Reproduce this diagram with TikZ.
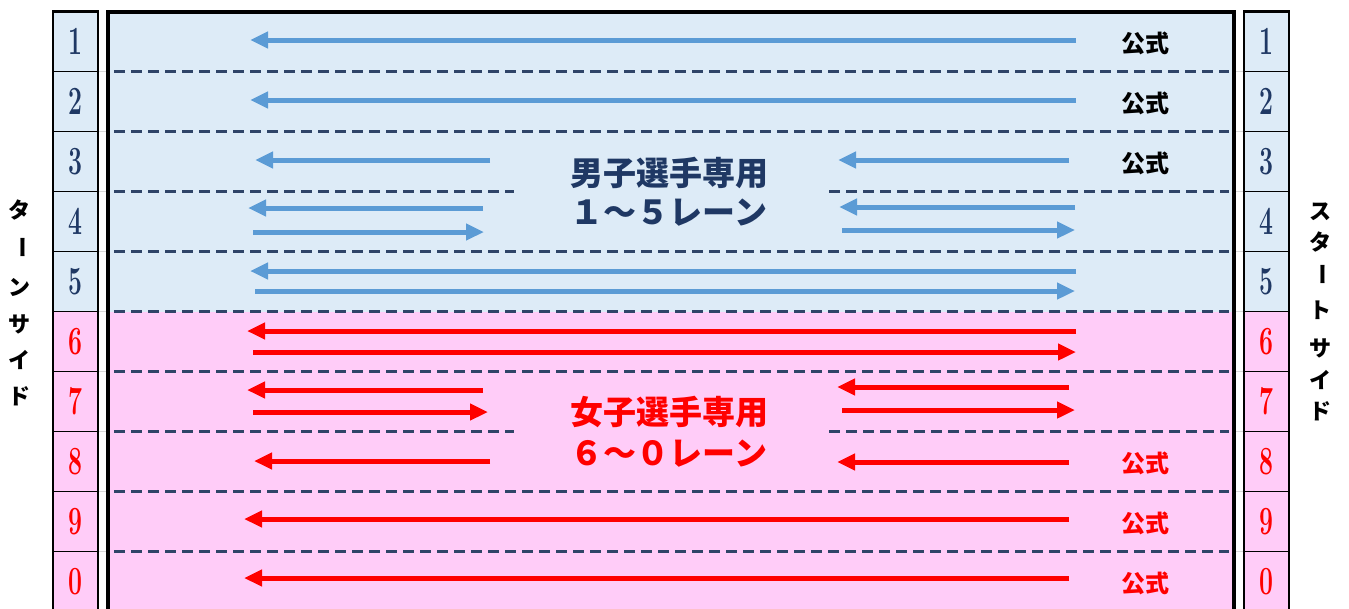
\documentclass[tikz,border=0pt]{standalone}
\usepackage{fontspec}
\usepackage{graphicx}
\newfontfamily\jp{Noto Sans CJK JP}
\usetikzlibrary{arrows.meta}
\definecolor{lblue}{HTML}{DDEBF7}
\definecolor{lpink}{HTML}{FFCCF8}
\definecolor{navy}{HTML}{1F3864}
\definecolor{arrblue}{HTML}{5B9BD5}
\definecolor{arrred}{HTML}{FF0000}
\definecolor{dashc}{HTML}{2F4468}
\definecolor{faint}{HTML}{D8D8D8}
\begin{document}
\begin{tikzpicture}[x=1pt,y=-1pt,
  lanedash/.style={draw=dashc, line width=2.3pt, dash pattern=on 11pt off 6pt},
  barrow/.style={draw=arrblue, line width=5pt, -{Triangle[length=18pt,width=16pt]}},
  rarrow/.style={draw=arrred, line width=5pt, -{Triangle[length=18pt,width=16pt]}},
  numlbl/.style={inner sep=0pt, font=\bfseries\fontsize{40}{40}\selectfont},
  koshiki/.style={inner sep=0pt, font=\jp\bfseries\fontsize{24}{24}\selectfont},
  centerlbl/.style={inner sep=0pt, font=\jp\bfseries\fontsize{33}{33}\selectfont},
  sidelbl/.style={inner sep=0pt, font=\jp\bfseries\fontsize{22}{22}\selectfont}]
\useasboundingbox (0,0) rectangle (1349,608);
\clip (0,0) rectangle (1349,608);
% backgrounds
\fill[lblue] (108,11.5) rectangle (1234,311.5);
\fill[lpink] (108,311.5) rectangle (1234,611.5);
\fill[lblue] (53,11.5) rectangle (98,311.5);
\fill[lpink] (53,311.5) rectangle (98,611.5);
\fill[lblue] (1244,11.5) rectangle (1289,311.5);
\fill[lpink] (1244,311.5) rectangle (1289,611.5);
% faint gaps lines and column separators
\foreach \i in {1,...,9}{
  \pgfmathsetmacro\yy{11.5+60*\i}
  \draw[faint, line width=0.8pt] (98,\yy) -- (108,\yy);
  \draw[faint, line width=0.8pt] (1234,\yy) -- (1244,\yy);
  \draw[black, line width=1.3pt] (53,\yy) -- (98,\yy);
  \draw[black, line width=1.3pt] (1244,\yy) -- (1289,\yy);
}
% dashed lane lines
\foreach \i in {1,2,4,5,6,8,9}{
  \pgfmathsetmacro\yy{11.5+60*\i}
  \draw[lanedash] (114,\yy) -- (1229,\yy);
}
\foreach \i in {3,7}{
  \pgfmathsetmacro\yy{11.5+60*\i}
  \draw[lanedash] (114,\yy) -- (514,\yy);
  \draw[lanedash] (829,\yy) -- (1229,\yy);
}
% borders
\draw[black, line width=2.5pt] (53,11.5) rectangle (98,620);
\draw[black, line width=2.5pt] (1244,11.5) rectangle (1289,620);
\draw[black, line width=4pt] (108,11.5) rectangle (1234,620);
% numbers
\foreach \n [count=\i] in {1,2,3,4,5}{
  \pgfmathsetmacro\yy{41.5+60*(\i-1)}
  \node[numlbl, text=navy] (L\i) at (75.5,\yy) {\scalebox{0.62}[1]{\n}};
  \node[numlbl, text=navy] (R\i) at (1266.5,\yy) {\scalebox{0.62}[1]{\n}};
}
\foreach \n [count=\i from 6] in {6,7,8,9,0}{
  \pgfmathsetmacro\yy{41.5+60*(\i-1)}
  \node[numlbl, text=arrred] (L\i) at (75.5,\yy) {\scalebox{0.62}[1]{\n}};
  \node[numlbl, text=arrred] (R\i) at (1266.5,\yy) {\scalebox{0.62}[1]{\n}};
}
% official labels
\node[koshiki, text=black] (k1) at (1145,43) {公式};
\node[koshiki, text=black] (k2) at (1145,103) {公式};
\node[koshiki, text=black] (k3) at (1145,163) {公式};
\node[koshiki, text=arrred] (k8) at (1145,463) {公式};
\node[koshiki, text=arrred] (k9) at (1145,523) {公式};
\node[koshiki, text=arrred] (k10) at (1145,583) {公式};
% center labels
\node[centerlbl, text=navy] (m1) at (669,173) {男子選手専用};
\node[centerlbl, text=navy] (m2) at (669,213) {１～５レーン};
\node[centerlbl, text=arrred] (f1) at (669,412) {女子選手専用};
\node[centerlbl, text=arrred] (f2) at (669,454) {６～０レーン};
% side labels
\node[sidelbl] (t1) at (20,210) {タ};
\node[sidelbl, rotate=-90] (t2) at (20,247) {ー};
\node[sidelbl] (t3) at (20,287) {ン};
\node[sidelbl] (t4) at (20,324) {サ};
\node[sidelbl] (t5) at (20,360) {イ};
\node[sidelbl] (t6) at (20,396) {ド};
\node[sidelbl] (s1) at (1320,212) {ス};
\node[sidelbl] (s2) at (1320,242) {タ};
\node[sidelbl, rotate=-90] (s3) at (1320,274) {ー};
\node[sidelbl] (s4) at (1320,310) {ト};
\node[sidelbl] (s5) at (1320,348) {サ};
\node[sidelbl] (s6) at (1320,380) {イ};
\node[sidelbl] (s7) at (1320,411) {ド};
% blue arrows
\draw[barrow] (1076,40) -- (250,40);
\draw[barrow] (1076,100) -- (250,100);
\draw[barrow] (490,160) -- (255,160);
\draw[barrow] (1069,160) -- (838,160);
\draw[barrow] (483,208) -- (248,208);
\draw[barrow] (253,232) -- (484,232);
\draw[barrow] (1075,207) -- (839,207);
\draw[barrow] (842,230) -- (1075,230);
\draw[barrow] (1076,271) -- (250,271);
\draw[barrow] (255,291) -- (1075,291);
% red arrows
\draw[rarrow] (1076,331) -- (247,331);
\draw[rarrow] (253,352) -- (1076,352);
\draw[rarrow] (483,390) -- (247,390);
\draw[rarrow] (253,412) -- (488,412);
\draw[rarrow] (1069,387) -- (837,387);
\draw[rarrow] (842,410) -- (1075,410);
\draw[rarrow] (490,461) -- (254,461);
\draw[rarrow] (1069,462) -- (837,462);
\draw[rarrow] (1069,519) -- (244,519);
\draw[rarrow] (1069,578) -- (244,578);
\end{tikzpicture}
\end{document}
